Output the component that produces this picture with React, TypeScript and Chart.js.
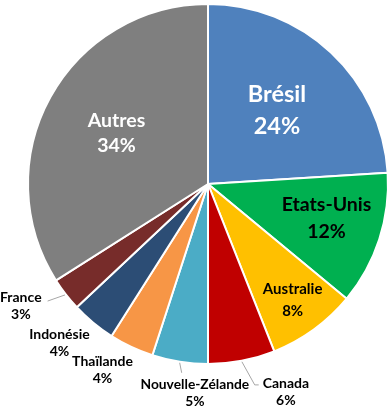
import React, { useEffect, useRef } from "react";
import { Chart, registerables } from "chart.js";

Chart.register(...registerables);

const categories = ["Brésil", "Etats-Unis", "Australie", "Canada", "Nouvelle-Zélande", "Thaïlande", "Indonésie", "France", "Autres"];
const shares = [24, 12, 8, 6, 5, 4, 4, 3, 34];
const colors = ["#4F81BD", "#00B050", "#FFC000", "#C00000", "#4BACC6", "#F79646", "#2C4D75", "#772C2A", "#7F7F7F"];

// label style/placement: polar position relative to pie (angle in degrees clockwise from top, r as fraction of radius)
type LabelStyle = { angle: number | null; r: number; size: number; color: string; gap: number; leader: null | "down" | "left" | "right" };
const labelStyles: LabelStyle[] = [
  { angle: null, r: 0.56, size: 23.5, color: "#FFFFFF", gap: 32, leader: null },
  { angle: 106, r: 0.685, size: 19.5, color: "#000000", gap: 27, leader: null },
  { angle: null, r: 0.8, size: 15, color: "#000000", gap: 22, leader: null },
  { angle: 159.5, r: 1.236, size: 14, color: "#000000", gap: 17, leader: "right" },
  { angle: 183.6, r: 1.165, size: 13.8, color: "#000000", gap: 17, leader: "down" },
  { angle: 209.5, r: 1.19, size: 14, color: "#000000", gap: 17, leader: null },
  { angle: 223, r: 1.21, size: 14, color: "#000000", gap: 17, leader: null },
  { angle: 237, r: 1.24, size: 14, color: "#000000", gap: 17, leader: "left" },
  { angle: null, r: 0.58, size: 19.5, color: "#FFFFFF", gap: 25, leader: null },
];

const FONT = "Lato, 'Open Sans', sans-serif";

const labelPlugin = {
  id: "pieLabels",
  afterDatasetsDraw(chart: any) {
    const ctx = chart.ctx as CanvasRenderingContext2D;
    const meta = chart.getDatasetMeta(0);
    ctx.save();
    meta.data.forEach((arc: any, i: number) => {
      const { x: cx, y: cy, startAngle, endAngle, outerRadius: R } = arc.getProps(["x", "y", "startAngle", "endAngle", "outerRadius"], true);
      const st = labelStyles[i];
      const mid = (startAngle + endAngle) / 2; // canvas radians
      const ang = st.angle === null ? mid : (st.angle - 90) * Math.PI / 180;
      const lx = cx + Math.cos(ang) * R * st.r;
      const ly = cy + Math.sin(ang) * R * st.r;
      ctx.font = `bold ${st.size}px ${FONT}`;
      ctx.fillStyle = st.color;
      ctx.textAlign = "center";
      ctx.textBaseline = "middle";
      const l1 = categories[i];
      const l2 = `${shares[i]}%`;
      const y1 = ly - st.gap / 2;
      const y2 = ly + st.gap / 2;
      ctx.fillText(l1, lx, y1);
      ctx.fillText(l2, lx, y2);
      if (st.leader) {
        const w = ctx.measureText(l1).width;
        const sx = cx + Math.cos(mid) * (R + 1);
        const sy = cy + Math.sin(mid) * (R + 1);
        ctx.strokeStyle = "#A6A6A6";
        ctx.lineWidth = 1;
        ctx.beginPath();
        ctx.moveTo(sx, sy);
        if (st.leader === "right") {
          const ex = lx - w / 2 - 4;
          ctx.lineTo(ex - 4, y1 + 1);
          ctx.lineTo(ex, y1 + 1);
        } else if (st.leader === "down") {
          ctx.lineTo(sx + 2, y1 - 12);
        } else if (st.leader === "left") {
          ctx.lineTo(lx + w / 2 + 6, y1 + 4);
        }
        ctx.stroke();
      }
    });
    ctx.restore();
  },
};

export default function App() {
  const ref = useRef<HTMLCanvasElement>(null);
  useEffect(() => {
    if (!ref.current) return;
    const chart = new Chart(ref.current, {
      type: "pie",
      data: {
        labels: categories,
        datasets: [
          {
            data: shares,
            backgroundColor: colors,
            borderColor: "#FFFFFF",
            borderWidth: 2,
          },
        ],
      },
      options: {
        responsive: false,
        animation: false,
        layout: { padding: { left: 27, right: 3, top: 3, bottom: 45 } },
        plugins: {
          legend: { display: false },
          tooltip: { enabled: false },
        },
      },
      plugins: [labelPlugin],
    });
    return () => chart.destroy();
  }, []);
  return (
    <div style={{ position: "fixed", left: 0, top: 0, width: 392, height: 410, background: "#FFFFFF" }}>
      <canvas ref={ref} width={392} height={410} style={{ width: 392, height: 410, display: "block" }} />
    </div>
  );
}
